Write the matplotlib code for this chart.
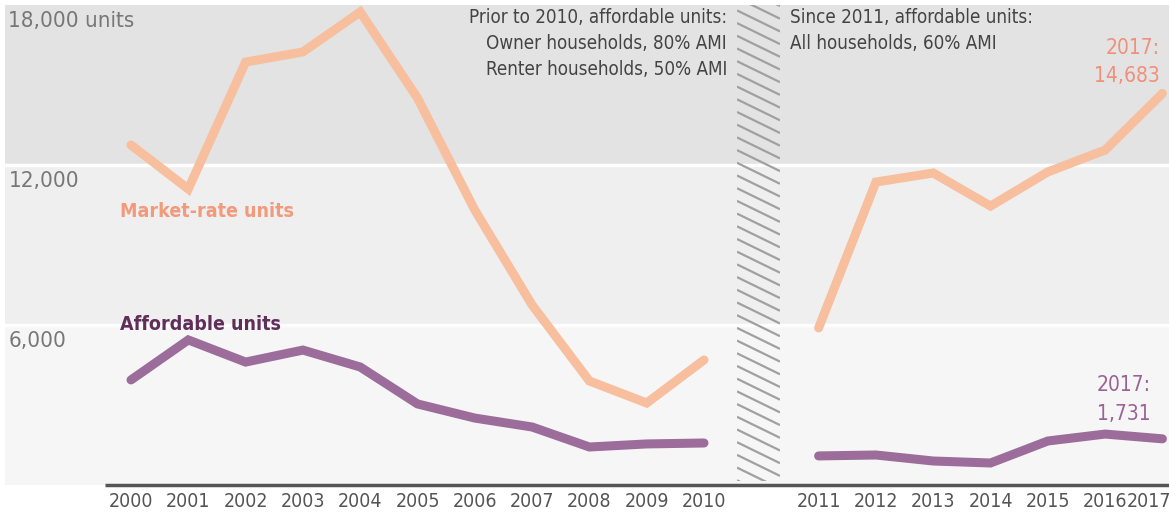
import numpy as np
import matplotlib.pyplot as plt
from matplotlib.transforms import blended_transform_factory

plt.rcParams['font.family'] = ['DejaVu Sans']
plt.rcParams['font.stretch'] = 'condensed'

years = [2000, 2001, 2002, 2003, 2004, 2005, 2006, 2007, 2008,
         2009, 2010, 2011, 2012, 2013, 2014, 2015, 2016, 2017]
market = [12750, 11100, 15860, 16240, 17740, 14510, 10310, 6750, 3900,
          3075, 4690, 5890, 11360, 11700, 10460, 11740, 12560, 14683]
affordable = [3940, 5440, 4610, 5060, 4425, 3040, 2510, 2175, 1425,
              1540, 1575, 1090, 1125, 900, 825, 1650, 1910, 1731]
y_ticks = [6000, 12000, 18000]
y_labels = ['6,000', '12,000', '18,000 units']

# one empty slot between 2010 and 2011 for the break
pos = np.array([i if y <= 2010 else i + 1 for i, y in enumerate(years)])
old = np.array(years) <= 2010
new = ~old

c_mkt = '#f7bf9e'
c_aff = '#9c6d9a'

fig = plt.figure(figsize=(11.69, 5.12), dpi=100)
ax = fig.add_axes([5 / 1169, 27 / 512, 1164 / 1169, 480 / 512])
ax.set_xlim(-2.199, 18.115)
ax.set_ylim(0, 18000)

# background bands
ax.axhspan(0, 6000, color='#f6f6f6', zorder=0)
ax.axhspan(6000, 12000, color='#efefef', zorder=0)
ax.axhspan(12000, 18000, color='#e3e3e3', zorder=0)
for v in [6000, 12000]:
    ax.axhline(v, color='white', lw=2.5, zorder=1)
ax.plot([-0.45, 18.2], [0, 0], color='#555555', lw=2.5, zorder=2,
        clip_on=False, solid_capstyle='butt')

for m in [old, new]:
    ax.plot(pos[m], np.array(market)[m], color=c_mkt, lw=6.5,
            solid_capstyle='round', solid_joinstyle='miter', zorder=3)
    ax.plot(pos[m], np.array(affordable)[m], color=c_aff, lw=6.5,
            solid_capstyle='round', solid_joinstyle='miter', zorder=3)

# y labels inside the bands
tr = blended_transform_factory(ax.transAxes, ax.transData)
for v, lab in zip(y_ticks, y_labels):
    ax.annotate(lab, (0.003, v), xycoords=tr, xytext=(0, -4),
                textcoords='offset points', va='top', ha='left',
                fontsize=16, color='#777777')

# x labels; the last one is nudged left so it stays inside the figure
ax.set_xticks(pos)
ax.set_xticklabels([str(y) for y in years[:-1]] + [''], fontsize=14,
                   color='#555555')
ax.annotate(str(years[-1]), (pos[-1], 0), xytext=(-10, -5),
            textcoords='offset points', ha='center', va='top',
            fontsize=14, color='#555555', annotation_clip=False)
ax.tick_params(axis='x', length=0, pad=5)
ax.set_yticks([])
for s in ax.spines.values():
    s.set_visible(False)

# series labels
ax.text(-0.2, 10240, 'Market-rate units', color='#f29a7c', fontsize=14,
        fontweight='bold', va='center', ha='left')
ax.text(-0.2, 6000, 'Affordable units', color='#5f2f5a', fontsize=14,
        fontweight='bold', va='center', ha='left')
ax.text(17.95, 14950, '2017:\n14,683', color='#f0907a', fontsize=15,
        ha='right', va='bottom', linespacing=1.55)
ax.text(17.8, 2290, '2017:\n1,731', color='#9a6397', fontsize=15,
        ha='right', va='bottom', linespacing=1.55)

ax.text(10.4, 17870, 'Prior to 2010, affordable units:\nOwner households, 80% AMI\n'
        'Renter households, 50% AMI', color='#444444', fontsize=13.5,
        ha='right', va='top', linespacing=1.45)
ax.text(11.5, 17870, 'Since 2011, affordable units:\nAll households, 60% AMI',
        color='#444444', fontsize=13.5, ha='left', va='top', linespacing=1.45)

# hatched break between 2010 and 2011
hx = fig.add_axes([737 / 1169, 31 / 512, 43 / 1169, 476 / 512])
hx.set_xlim(0, 43)
hx.set_ylim(476, 0)
hx.axis('off')
for y0 in np.arange(-20, 480, 12.7):
    hx.plot([0, 43], [y0, y0 + 21], color='#a0a0a0', lw=1.6,
            solid_capstyle='butt')

fig.savefig('out.png', dpi=100)
